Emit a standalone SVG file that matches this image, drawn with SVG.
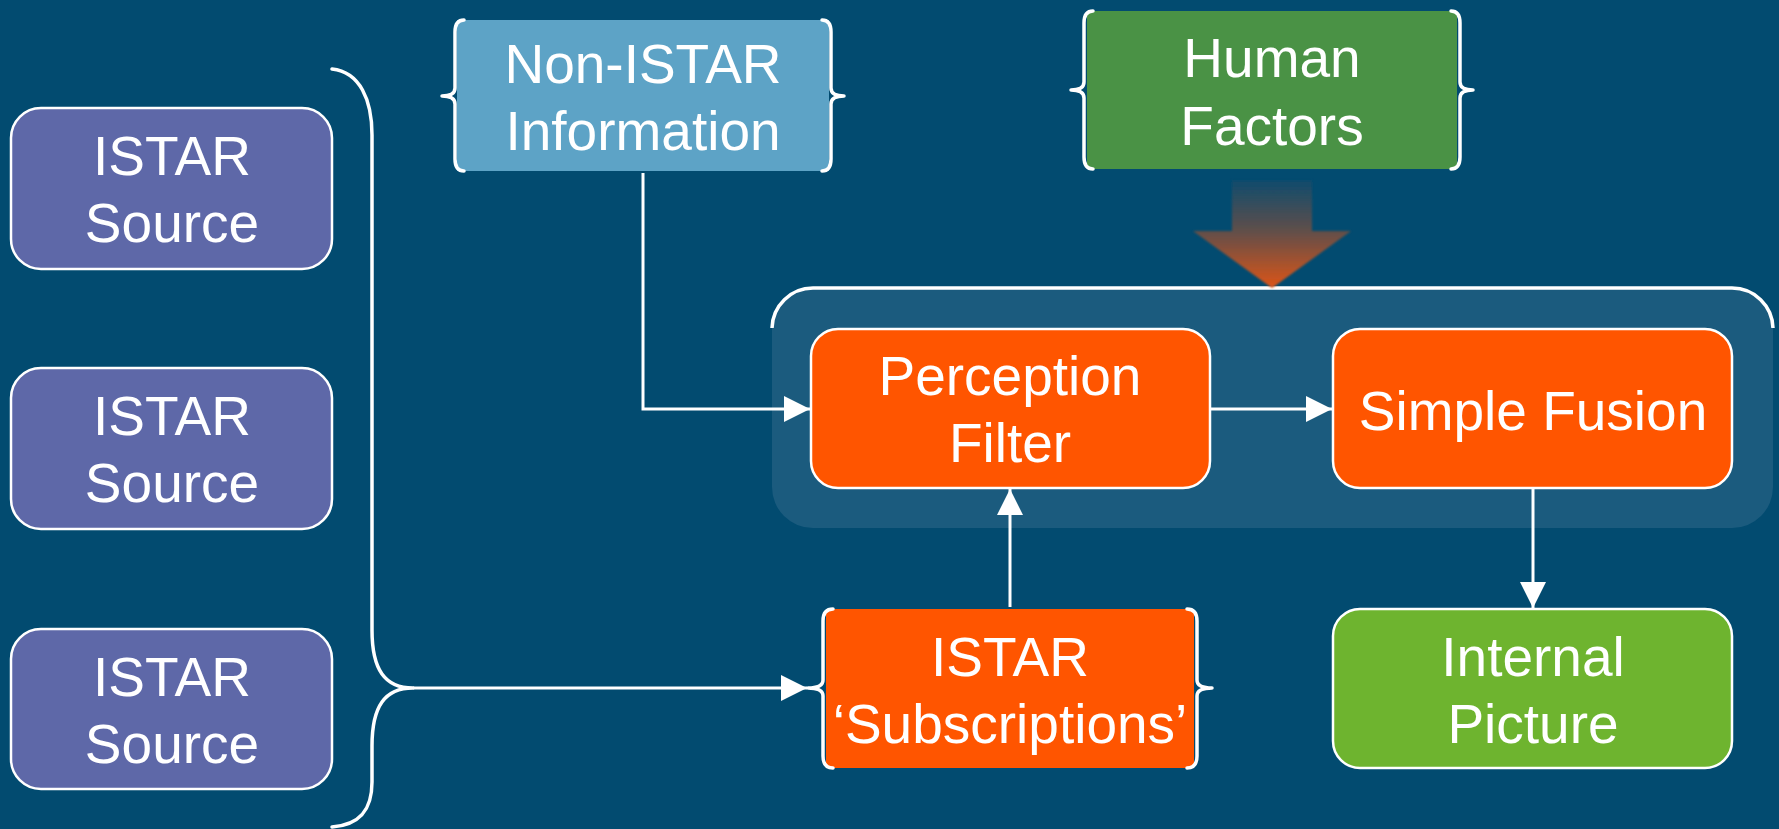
<svg xmlns="http://www.w3.org/2000/svg" width="1779" height="829" viewBox="0 0 1779 829">
  <style>
    .box { stroke: #ffffff; stroke-width: 2.5; }
    .label { font-family: "Liberation Sans", Arial, sans-serif; font-size: 55px; fill: #ffffff; text-anchor: middle; }
    .brace { fill: none; stroke: #ffffff; stroke-width: 3.5; stroke-linecap: round; stroke-linejoin: round; }
    .link { fill: none; stroke: #ffffff; stroke-width: 3; }
  </style>
  <defs>
    <marker id="head" markerUnits="userSpaceOnUse" markerWidth="26" markerHeight="26" refX="26" refY="13" orient="auto">
      <path d="M0,0 L26,13 L0,26 Z" fill="#ffffff"/>
    </marker>
    <linearGradient id="hfGrad" x1="0" y1="180" x2="0" y2="288" gradientUnits="userSpaceOnUse">
      <stop offset="0" stop-color="#0f4c6d"/>
      <stop offset="0.45" stop-color="#5c4f4c"/>
      <stop offset="1" stop-color="#dc5418"/>
    </linearGradient>
    <filter id="soft" x="-10%" y="-10%" width="120%" height="120%">
      <feGaussianBlur stdDeviation="1.2"/>
    </filter>
  </defs>

  <!-- background -->
  <rect x="0" y="0" width="1779" height="829" fill="#024b70"/>

  <!-- processing panel -->
  <g id="panel">
    <rect x="772" y="288" width="1001" height="240" rx="41" ry="41" fill="#1b5b7e"/>
    <path d="M772,328 A41,41 0 0 1 813,288 L1732,288 A41,41 0 0 1 1773,328" fill="none" stroke="#ffffff" stroke-width="3.5"/>
  </g>

  <!-- sources -->
  <g id="source1">
    <rect class="box" x="11" y="108" width="321" height="161" rx="30" fill="#5e68a8"/>
    <text class="label" x="172" y="175">ISTAR</text>
    <text class="label" x="172" y="242">Source</text>
  </g>
  <g id="source2">
    <rect class="box" x="11" y="368" width="321" height="161" rx="30" fill="#5e68a8"/>
    <text class="label" x="172" y="435">ISTAR</text>
    <text class="label" x="172" y="502">Source</text>
  </g>
  <g id="source3">
    <rect class="box" x="11" y="629" width="321" height="160" rx="30" fill="#5e68a8"/>
    <text class="label" x="172" y="696">ISTAR</text>
    <text class="label" x="172" y="763">Source</text>
  </g>

  <!-- grouping bracket for the sources -->
  <g id="sourceBracket">
    <path class="brace" d="M332,69 C360,72 372,100 372,135 L372,630 C372,670 385,688 413,688 C385,688 372,706 372,746 L372,782 C372,810 360,825 332,827"/>
  </g>

  <!-- non-ISTAR information -->
  <g id="nonIstar">
    <rect x="457" y="20" width="372" height="151" fill="#5da3c6"/>
    <path class="brace" d="M464,20 Q455,20 455,32 L455,88 Q455,96 442,96 Q455,96 455,104 L455,159 Q455,171 464,171"/>
    <path class="brace" d="M822,20 Q831,20 831,32 L831,88 Q831,96 844,96 Q831,96 831,104 L831,159 Q831,171 822,171"/>
    <text class="label" x="643" y="83">Non-ISTAR</text>
    <text class="label" x="643" y="150">Information</text>
  </g>

  <!-- human factors -->
  <g id="humanFactors">
    <rect x="1087" y="11" width="370" height="158" fill="#4a9245"/>
    <path class="brace" d="M1093,11 Q1084,11 1084,23 L1084,82 Q1084,90 1071,90 Q1084,90 1084,98 L1084,157 Q1084,169 1093,169"/>
    <path class="brace" d="M1451,11 Q1460,11 1460,23 L1460,82 Q1460,90 1473,90 Q1460,90 1460,98 L1460,157 Q1460,169 1451,169"/>
    <text class="label" x="1272" y="77">Human</text>
    <text class="label" x="1272" y="145">Factors</text>
  </g>

  <!-- influence arrow -->
  <g id="influence">
    <polygon points="1232,180 1312,180 1312,231 1351,231 1272,288 1193,231 1232,231" fill="url(#hfGrad)" filter="url(#soft)"/>
  </g>

  <!-- perception filter -->
  <g id="perceptionFilter">
    <rect class="box" x="811" y="329" width="399" height="159" rx="27" fill="#ff5500"/>
    <text class="label" x="1010" y="395">Perception</text>
    <text class="label" x="1010" y="462">Filter</text>
  </g>

  <!-- simple fusion -->
  <g id="simpleFusion">
    <rect class="box" x="1333" y="329" width="399" height="159" rx="27" fill="#ff5500"/>
    <text class="label" x="1533" y="430">Simple Fusion</text>
  </g>

  <!-- ISTAR subscriptions -->
  <g id="subscriptions">
    <rect x="826" y="609" width="368" height="159" fill="#ff5500"/>
    <path class="brace" d="M833,609 Q823,609 823,621 L823,680 Q823,688 808,688 Q823,688 823,696 L823,756 Q823,768 833,768"/>
    <path class="brace" d="M1187,609 Q1197,609 1197,621 L1197,680 Q1197,688 1212,688 Q1197,688 1197,696 L1197,756 Q1197,768 1187,768"/>
    <text class="label" x="1010" y="676">ISTAR</text>
    <text class="label" x="1010" y="743">‘Subscriptions’</text>
  </g>

  <!-- internal picture -->
  <g id="internalPicture">
    <rect class="box" x="1333" y="609" width="399" height="159" rx="27" fill="#6eb42f"/>
    <text class="label" x="1533" y="676">Internal</text>
    <text class="label" x="1533" y="743">Picture</text>
  </g>

  <!-- connectors -->
  <g id="connectors">
    <path class="link" d="M643,173 L643,409 L810,409" marker-end="url(#head)"/>
    <path class="link" d="M413,688 L807,688" marker-end="url(#head)"/>
    <path class="link" d="M1010,607 L1010,489" marker-end="url(#head)"/>
    <path class="link" d="M1211,409 L1332,409" marker-end="url(#head)"/>
    <path class="link" d="M1533,489 L1533,608" marker-end="url(#head)"/>
  </g>
</svg>
